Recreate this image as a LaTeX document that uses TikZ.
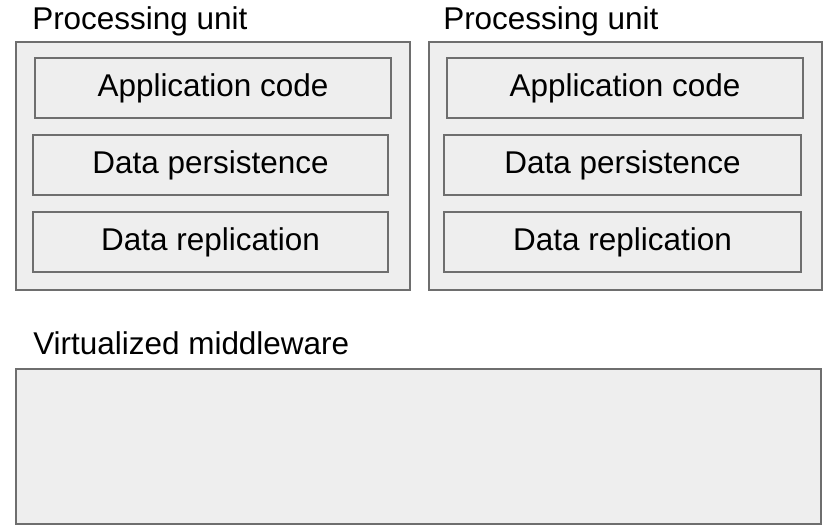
\documentclass[tikz,border=0pt]{standalone}
\usepackage{fontspec}
\setmainfont{Liberation Sans}
\definecolor{boxfill}{HTML}{EEEEEE}
\definecolor{boxline}{HTML}{6E6E6E}
\begin{document}
\begin{tikzpicture}[x=0.75pt,y=-0.75pt,
  box/.style={draw=boxline,fill=boxfill,line width=1.1pt,rectangle,inner sep=0pt,
    font=\fontsize{23.6}{28}\selectfont},
  title/.style={anchor=base west,inner sep=0pt,font=\fontsize{23.6}{28}\selectfont}]
\useasboundingbox (0,0) rectangle (828,525);
% left processing unit
\node[box,minimum width=295.5pt,minimum height=186pt] (pu1) at (213,166) {};
\node[box,minimum width=267pt,minimum height=45pt] (app1) at (213,88) {Application code};
\node[box,minimum width=266.25pt,minimum height=45pt] (per1) at (210.5,165) {Data persistence};
\node[box,minimum width=266.25pt,minimum height=45pt] (rep1) at (210.5,242) {Data replication};
\node[title] (t1) at (32,29) {Processing unit};
% right processing unit
\node[box,minimum width=294.75pt,minimum height=186pt] (pu2) at (625.5,166) {};
\node[box,minimum width=267pt,minimum height=45pt] (app2) at (625,88) {Application code};
\node[box,minimum width=267.75pt,minimum height=45pt] (per2) at (622.5,165) {Data persistence};
\node[box,minimum width=267.75pt,minimum height=45pt] (rep2) at (622.5,242) {Data replication};
\node[title] (t2) at (443,29) {Processing unit};
% middleware
\node[box,minimum width=603.75pt,minimum height=116.25pt] (mw) at (418.5,446.5) {};
\node[title] (t3) at (33,354) {Virtualized middleware};
\end{tikzpicture}
\end{document}
